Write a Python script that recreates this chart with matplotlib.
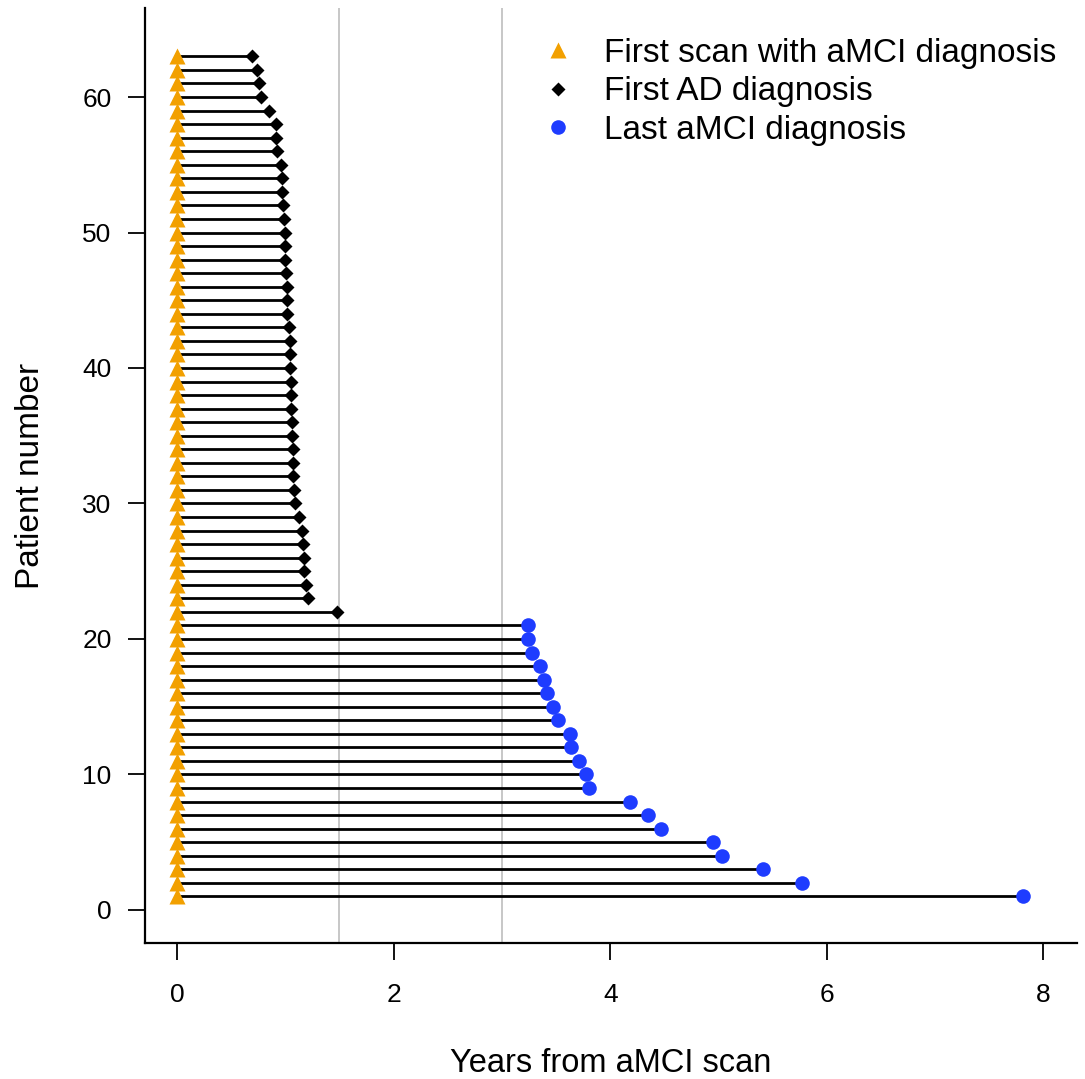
import numpy as np
import matplotlib.pyplot as plt

plt.rcParams['font.family'] = ['Liberation Sans', 'DejaVu Sans']

# patients 1..21: last aMCI diagnosis (years from scan)
last_mci = [7.81, 5.77, 5.41, 5.03, 4.95, 4.47, 4.35, 4.18, 3.80, 3.78,
            3.71, 3.64, 3.63, 3.52, 3.47, 3.42, 3.39, 3.35, 3.28, 3.245, 3.245]
# patients 22..63: first AD diagnosis (years from scan)
first_ad = [1.475, 1.21, 1.19, 1.17, 1.17, 1.16, 1.155, 1.13, 1.09, 1.08,
            1.075, 1.07, 1.07, 1.06, 1.06, 1.055, 1.05, 1.05, 1.04, 1.04,
            1.04, 1.035, 1.02, 1.015, 1.015, 1.01, 1.00, 0.995, 0.995, 0.99,
            0.98, 0.965, 0.965, 0.96, 0.92, 0.91, 0.91, 0.85, 0.78, 0.76,
            0.74, 0.69]

n_mci = len(last_mci)
n_ad = len(first_ad)
pat_mci = np.arange(1, n_mci + 1)
pat_ad = np.arange(n_mci + 1, n_mci + n_ad + 1)
pat_all = np.arange(1, n_mci + n_ad + 1)

orange = '#F2A000'
blue = '#1E3CFF'

fig = plt.figure(figsize=(10.85, 10.79), dpi=100)
ax = fig.add_axes([0.1336, 0.126, 0.859, 0.8666])

# reference lines
for xv in [1.5, 3.0]:
    ax.axvline(xv, color='#bdbdbd', lw=1.2, zorder=1)

ax.hlines(pat_mci, 0, last_mci, color='black', lw=2.0, zorder=2)
ax.hlines(pat_ad, 0, first_ad, color='black', lw=2.0, zorder=2)

ax.plot(np.zeros(len(pat_all)), pat_all, '^', color=orange, ms=12,
        mec='none', zorder=3, label='First scan with aMCI diagnosis')
ax.plot(first_ad, pat_ad, 'D', color='black', ms=7.5, mec='none', zorder=3,
        label='First AD diagnosis')
ax.plot(last_mci, pat_mci, 'o', color=blue, ms=10.5, mec='none', zorder=3,
        label='Last aMCI diagnosis')

ax.set_xlim(-0.296, 8.31)
ax.set_ylim(-2.44, 66.57)
ax.set_xticks([0, 2, 4, 6, 8])
ax.set_yticks([0, 10, 20, 30, 40, 50, 60])

for s in ['top', 'right']:
    ax.spines[s].set_visible(False)
for s in ['left', 'bottom']:
    ax.spines[s].set_linewidth(1.6)

ax.tick_params(axis='x', length=12, width=1.3, pad=17, labelsize=19)
ax.tick_params(axis='y', length=12, width=1.3, pad=12, labelsize=19)

ax.set_xlabel('Years from aMCI scan', fontsize=23.5, labelpad=29)
ax.set_ylabel('Patient number', fontsize=24, labelpad=26)

ax.legend(loc='upper left', bbox_to_anchor=(541 / 1085, 1 - 38 / 1079),
          bbox_transform=fig.transFigure, frameon=False, fontsize=24,
          handlelength=1.0, handletextpad=0.9, labelspacing=0.22,
          borderpad=0, borderaxespad=0, numpoints=1)

fig.savefig('out.png', dpi=100)
